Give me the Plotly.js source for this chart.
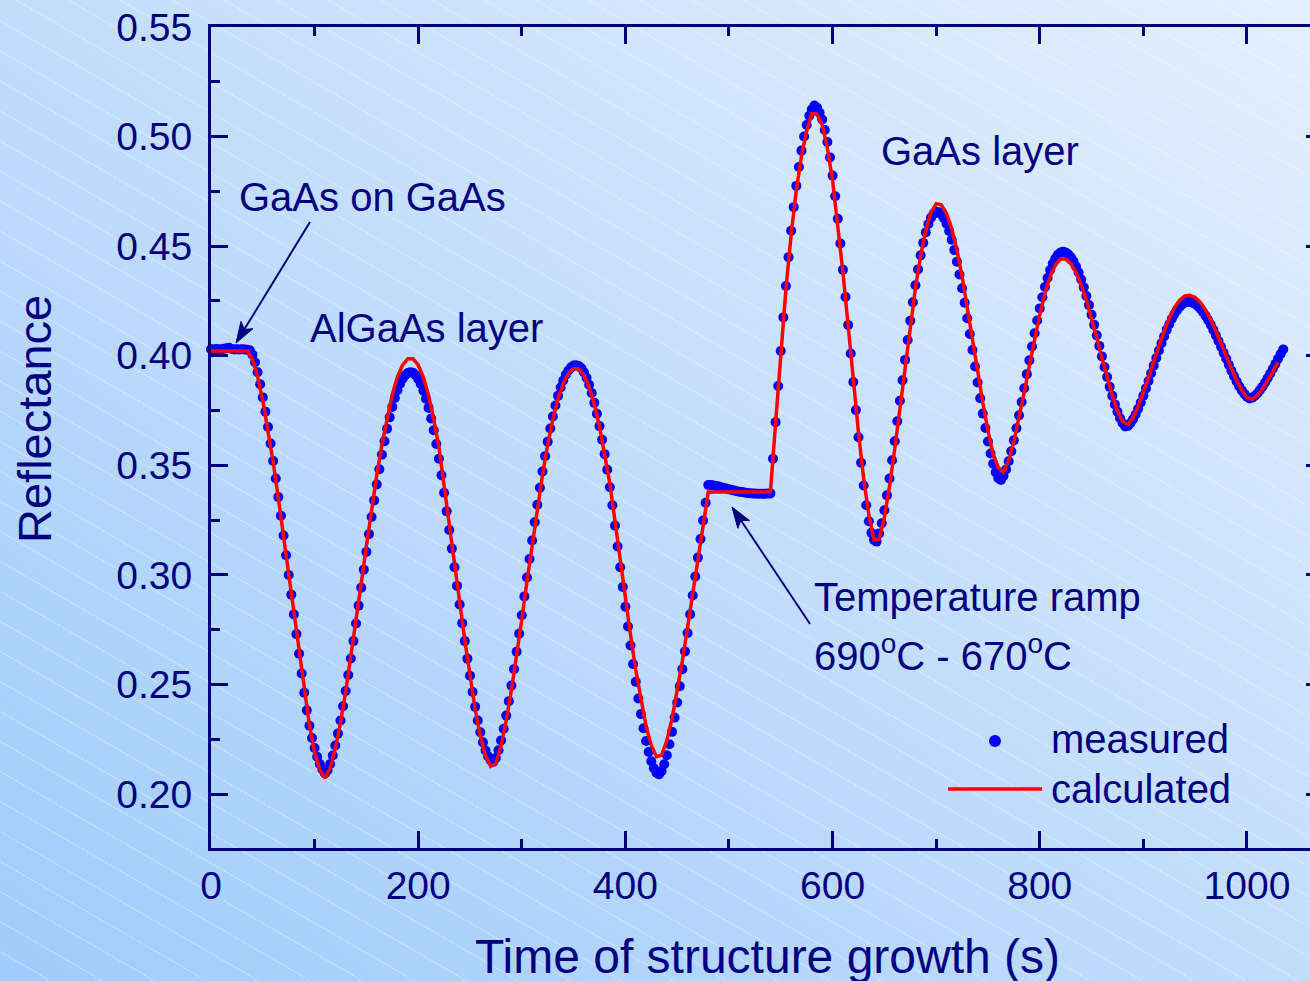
<!DOCTYPE html>
<html>
<head>
<meta charset="utf-8">
<script src="https://cdn.plot.ly/plotly-3.0.1.min.js"></script>
<style>
html,body{margin:0;padding:0;width:1310px;height:981px;overflow:hidden;}
body{
  background:
    repeating-linear-gradient(30deg, rgba(255,255,255,0) 0px, rgba(255,255,255,0) 25px, rgba(255,255,255,0.30) 25px, rgba(255,255,255,0.30) 26px),
    linear-gradient(to top right, #a0ccfb 0%, #c2ddfc 50%, #e4effe 100%);
}
#chart{width:1340px;height:981px;}
</style>
</head>
<body>
<div id="chart"></div>
<script>
// Time grid of the two series (s)
const measuredStart = 0;
const measuredStep = 2.5;
const calculatedStart = 0;
const calculatedStep = 5;

// Measured reflectance, one value every 2.5 s from 0 s to 1035 s
const measured = [
0.4030,0.4028,0.4031,0.4029,0.4030,0.4032,0.4034,0.4036,0.4031,0.4029,0.4030,0.4028,0.4030,0.4029,0.4027,0.4025,
0.4005,0.3970,0.3925,0.3870,0.3810,0.3745,0.3675,0.3600,0.3520,0.3440,
0.3355,0.3270,0.3180,0.3090,0.3000,0.2910,0.2820,0.2730,0.2640,0.2550,
0.2462,0.2382,0.2312,0.2256,0.2210,0.2170,0.2137,0.2112,
0.2094,0.2109,0.2137,0.2176,0.2222,0.2276,0.2336,0.2401,0.2470,0.2543,
0.2619,0.2698,0.2778,0.2860,0.2942,0.3024,0.3105,0.3186,0.3264,0.3340,
0.3413,0.3482,0.3548,0.3610,0.3667,0.3719,0.3766,0.3807,0.3843,0.3872,
0.3895,0.3911,0.3921,0.3925,
0.3922,0.3911,0.3894,0.3871,0.3841,0.3804,0.3762,0.3714,0.3660,0.3597,
0.3530,0.3455,0.3375,0.3290,0.3205,0.3120,0.3035,0.2950,0.2865,0.2780,
0.2698,0.2618,0.2540,0.2466,0.2398,0.2336,0.2282,0.2236,0.2199,0.2172,
0.2154,0.2147,
0.2165,0.2200,0.2245,0.2298,0.2358,0.2424,0.2495,0.2570,0.2650,0.2732,
0.2816,0.2902,0.2988,0.3073,0.3157,0.3240,0.3320,0.3398,0.3472,0.3542,
0.3608,0.3668,0.3723,0.3773,0.3817,0.3855,0.3887,0.3913,0.3933,0.3947,
0.3955,0.3957,
0.3953,0.3943,0.3925,0.3900,0.3868,0.3830,0.3785,0.3735,0.3679,0.3617,
0.3551,0.3480,0.3400,0.3318,0.3225,0.3130,0.3035,0.2945,0.2855,0.2765,
0.2678,0.2593,0.2512,0.2436,0.2365,0.2300,0.2242,0.2192,0.2150,0.2118,
0.2097,0.2090,
0.2105,0.2136,0.2177,0.2227,0.2284,0.2349,0.2418,0.2492,0.2570,0.2651,
0.2735,0.2820,0.2906,0.2993,0.3079,0.3164,0.3248,0.3329,
0.3410,0.3410,0.3408,0.3406,0.3403,0.3400,0.3397,0.3394,0.3391,0.3388,
0.3385,0.3382,0.3380,0.3378,0.3376,0.3374,0.3373,0.3372,0.3371,0.3370,
0.3370,0.3370,0.3370,0.3371,0.3372,
0.3530,0.3697,0.3862,0.4022,0.4175,0.4318,0.4450,0.4570,0.4678,0.4775,
0.4861,0.4936,0.5000,0.5053,0.5095,0.5125,0.5142,
0.5132,0.5108,0.5078,0.5030,0.4975,0.4905,0.4822,0.4728,0.4625,0.4512,
0.4392,0.4268,0.4140,0.4010,0.3880,0.3752,0.3628,0.3512,0.3408,0.3318,
0.3245,0.3192,0.3160,0.3152,
0.3189,0.3236,0.3295,0.3363,0.3440,0.3523,0.3610,0.3701,0.3795,0.3888,
0.3981,0.4072,0.4160,0.4244,0.4322,0.4394,0.4458,0.4515,0.4563,0.4601,
0.4630,0.4648,0.4657,
0.4655,0.4645,0.4627,0.4602,0.4569,0.4529,0.4482,0.4429,0.4371,0.4308,
0.4242,0.4171,0.4099,0.4026,0.3951,0.3878,0.3806,0.3736,0.3670,0.3609,
0.3554,0.3507,0.3468,0.3441,
0.3433,0.3451,0.3481,0.3519,0.3564,0.3614,0.3669,0.3728,0.3789,0.3852,
0.3916,0.3979,0.4042,0.4103,0.4161,0.4216,0.4267,0.4314,0.4355,0.4391,
0.4421,0.4444,0.4461,0.4471,0.4474,
0.4471,0.4463,0.4449,0.4431,0.4407,0.4380,0.4348,0.4312,0.4273,0.4231,
0.4187,0.4141,0.4093,0.4045,0.3997,0.3949,0.3903,0.3858,0.3817,0.3778,
0.3744,0.3715,0.3692,0.3677,
0.3680,0.3692,0.3710,0.3732,0.3758,0.3787,0.3818,0.3851,0.3885,0.3920,
0.3955,0.3990,0.4024,0.4057,0.4088,0.4118,0.4144,0.4169,0.4190,0.4208,
0.4223,0.4235,0.4242,0.4246,
0.4246,0.4242,0.4236,0.4227,0.4215,0.4200,0.4183,0.4163,0.4142,0.4118,
0.4093,0.4067,0.4041,0.4013,0.3986,0.3959,0.3932,0.3907,0.3883,0.3861,
0.3842,0.3826,0.3813,0.3805,
0.3808,0.3816,0.3828,0.3843,0.3859,0.3878,0.3898,0.3919,0.3941,0.3963,
0.3986,0.4008,0.4029
];

// Calculated reflectance, one value every 5 s from 0 s to 1030 s
const calculated = [
0.4022,0.4022,0.4022,0.4022,0.4022,0.4022,0.4022,0.4022,
0.3985,0.3905,0.3795,0.3665,0.3515,0.3350,0.3178,0.3000,0.2822,0.2645,0.2472,0.2315,0.2190,0.2112,0.2073,
0.2118,0.2207,0.2326,0.2467,0.2623,0.2790,0.2961,0.3132,0.3298,0.3454,0.3596,0.3720,0.3824,0.3904,0.3958,0.3986,
0.3986,0.3958,0.3902,0.3819,0.3711,0.3583,0.3413,0.3235,0.3056,0.2879,0.2702,0.2537,0.2387,0.2265,0.2176,0.2127,
0.2140,0.2222,0.2336,0.2474,0.2630,0.2797,0.2970,0.3140,0.3304,0.3457,0.3594,0.3710,0.3804,0.3873,0.3920,0.3941,
0.3939,0.3912,0.3858,0.3779,0.3678,0.3556,0.3417,0.3245,0.3065,0.2893,0.2725,0.2566,0.2426,0.2309,0.2222,0.2171,
0.2178,0.2244,0.2343,0.2466,0.2607,0.2759,0.2917,0.3076,0.3231,
0.3378,0.3378,0.3378,0.3378,0.3378,0.3378,0.3378,0.3378,0.3378,0.3378,0.3378,0.3378,0.3378,
0.3693,0.4013,0.4305,0.4553,0.4755,0.4912,0.5026,0.5105,
0.5102,0.5053,0.4948,0.4800,0.4605,0.4380,0.4140,0.3890,0.3650,0.3440,0.3275,0.3160,
0.3163,0.3262,0.3405,0.3574,0.3761,0.3952,0.4138,0.4309,0.4456,0.4573,0.4653,0.4694,
0.4689,0.4649,0.4579,0.4483,0.4363,0.4227,0.4081,0.3932,0.3788,0.3658,0.3551,0.3490,
0.3469,0.3522,0.3608,0.3714,0.3833,0.3956,0.4076,0.4188,0.4284,0.4362,0.4414,0.4441,
0.4441,0.4420,0.4381,0.4324,0.4253,0.4171,0.4082,0.3990,0.3900,0.3819,0.3749,0.3699,
0.3686,0.3717,0.3768,0.3830,0.3900,0.3973,0.4045,0.4112,0.4171,0.4219,0.4253,0.4273,
0.4276,0.4266,0.4243,0.4209,0.4165,0.4113,0.4057,0.3998,0.3940,0.3887,0.3842,0.3810,
0.3801,0.3819,0.3849,0.3886,0.3928,0.3971
];

const seriesNames = ['measured', 'calculated'];
const xTitle = 'Time of structure growth (s)';
const yTitle = 'Reflectance';

const navy = '#000080';
const fontFamily = 'Liberation Sans, Arial, Helvetica, sans-serif';

// plot geometry (pixels) used only to place decorations
const M = {l:211, r:17, t:27, b:133};
const W = 1340, H = 981;
const xRange = [0, 1073.4], yRange = [0.1754, 0.55];
const plotW = W - M.l - M.r, plotH = H - M.t - M.b;
const pxX = plotW / (xRange[1] - xRange[0]);
const pxY = plotH / (yRange[1] - yRange[0]);
const dX = px => xRange[0] + (px - M.l) / pxX;
const dY = py => yRange[1] - (py - M.t) / pxY;
const paperX = px => (px - M.l) / plotW;
const paperY = py => (H - M.b - py) / plotH;

function txt(px, py, text, size){
  return {xref:'x', yref:'y', x:dX(px), y:dY(py), text:text, showarrow:false, xanchor:'left', yanchor:'middle',
          font:{size:size||40, color:navy, family:fontFamily}};
}
// arrow drawn as two shapes: shaft and filled head
function arrowShapes(tipX, tipY, tailX, tailY){
  const vx = tipX - tailX, vy = tipY - tailY, len = Math.hypot(vx, vy);
  const ux = vx/len, uy = vy/len, nx = -uy, ny = ux;
  const L = 21, hw = 7, notch = 5;
  const bx = tipX - ux*L, by = tipY - uy*L;
  const p1 = [bx + nx*hw, by + ny*hw], p2 = [bx - nx*hw, by - ny*hw];
  const pn = [tipX - ux*(L - notch), tipY - uy*(L - notch)];
  return [
    {type:'line', xref:'x', yref:'y', x0:dX(tailX), y0:dY(tailY), x1:dX(pn[0]), y1:dY(pn[1]),
     line:{color:navy, width:2}},
    {type:'path', xref:'x', yref:'y',
     path:'M'+dX(tipX)+','+dY(tipY)+'L'+dX(p1[0])+','+dY(p1[1])+'L'+dX(pn[0])+','+dY(pn[1])+'L'+dX(p2[0])+','+dY(p2[1])+'Z',
     fillcolor:navy, line:{color:navy, width:1}}
  ];
}

const traces = [
  {type:'scatter', mode:'markers', name:seriesNames[0], x0:measuredStart, dx:measuredStep, y:measured,
   marker:{color:'#0000FF', size:10, line:{width:0}}, cliponaxis:false},
  {type:'scatter', mode:'lines', name:seriesNames[1], x0:calculatedStart, dx:calculatedStep, y:calculated,
   line:{color:'#FF0000', width:3.5}, cliponaxis:false}
];

const layout = {
  width:W, height:H,
  margin:{l:M.l, r:M.r, t:M.t, b:M.b, pad:0},
  paper_bgcolor:'rgba(0,0,0,0)', plot_bgcolor:'rgba(0,0,0,0)',
  showlegend:false,
  font:{family:fontFamily, color:navy},
  xaxis:{
    range:xRange, showgrid:false, zeroline:false,
    showline:true, linecolor:navy, linewidth:3, mirror:'ticks',
    ticks:'inside', ticklen:17, tickwidth:3, tickcolor:navy,
    tick0:0, dtick:200, ticklabelstandoff:1,
    tickfont:{size:39, color:navy, family:fontFamily},
    minor:{dtick:100, tick0:0, ticks:'inside', ticklen:9, tickwidth:3, tickcolor:navy, showgrid:false}
  },
  yaxis:{
    range:yRange, showgrid:false, zeroline:false,
    showline:true, linecolor:navy, linewidth:3, mirror:'ticks',
    ticks:'inside', ticklen:17, tickwidth:3, tickcolor:navy,
    tick0:0.2, dtick:0.05, tickformat:'.2f', ticklabelstandoff:8,
    tickfont:{size:39, color:navy, family:fontFamily},
    minor:{dtick:0.025, tick0:0.2, ticks:'inside', ticklen:9, tickwidth:3, tickcolor:navy, showgrid:false}
  },
  annotations:[
    txt(237, 197, 'GaAs on GaAs'),
    txt(308, 328, 'AlGaAs layer'),
    txt(879, 151, 'GaAs layer'),
    txt(812, 597, 'Temperature ramp'),
    txt(812, 653, '690<sup>o</sup>C - 670<sup>o</sup>C'),
    txt(1049, 739, seriesNames[0]),
    txt(1049, 789, seriesNames[1]),
    {xref:'paper', yref:'paper', x:0.5, y:paperY(956), text:xTitle, showarrow:false, xanchor:'center', yanchor:'middle',
     font:{size:48, color:navy, family:fontFamily}},
    {xref:'paper', yref:'paper', x:paperX(34), y:paperY(419), text:yTitle, showarrow:false, textangle:-90, xanchor:'center', yanchor:'middle',
     font:{size:47, color:navy, family:fontFamily}}
  ],
  shapes:[
    {type:'circle', xref:'x', yref:'y', xsizemode:'pixel', ysizemode:'pixel', xanchor:dX(995), yanchor:dY(741),
     x0:-6, x1:6, y0:-6, y1:6, fillcolor:'#0000FF', line:{width:0}},
    {type:'line', xref:'x', yref:'y', x0:dX(948), x1:dX(1042), y0:dY(789), y1:dY(789), line:{color:'#FF0000', width:3.5}}
  ].concat(arrowShapes(236, 343, 310, 222), arrowShapes(732, 507, 810, 624))
};

Plotly.newPlot('chart', traces, layout, {displayModeBar:false, staticPlot:true});
</script>
</body>
</html>
